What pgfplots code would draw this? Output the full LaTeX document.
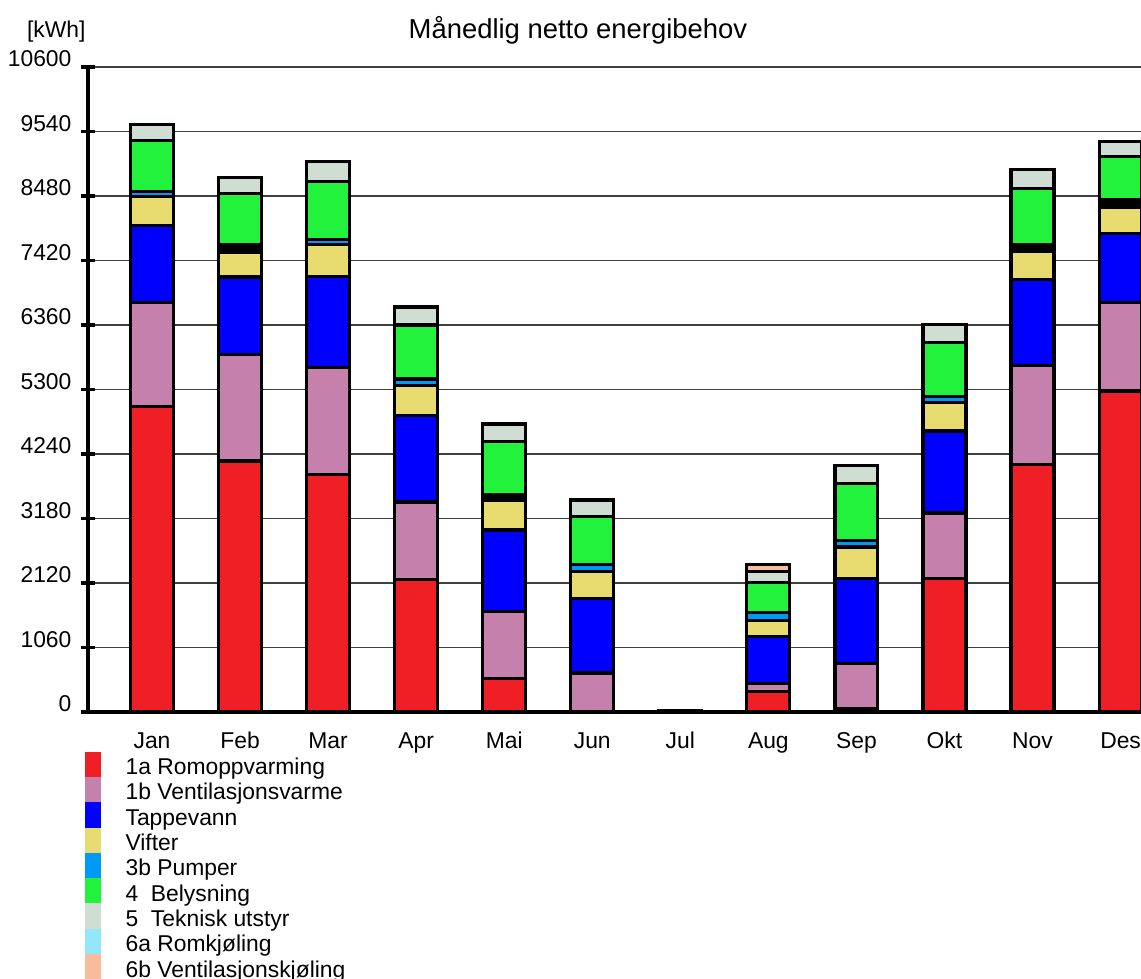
\documentclass[border=0pt]{standalone}
\usepackage{fontspec}
\setmainfont{Liberation Sans}
\usepackage{pgfplots}
\pgfplotsset{compat=1.18}
\usepackage{pgfplotstable}

\definecolor{cRed}{HTML}{F01F25}
\definecolor{cPink}{HTML}{C680AC}
\definecolor{cBlue}{HTML}{0000FF}
\definecolor{cYel}{HTML}{E8DC70}
\definecolor{cPump}{HTML}{0099F5}
\definecolor{cGreen}{HTML}{22F23C}
\definecolor{cGray}{HTML}{D0DDD2}
\definecolor{cCyan}{HTML}{92E8F8}
\definecolor{cPeach}{HTML}{F8BC9C}

\pgfplotstableread{
x red pink blue yellow pump pumpdark green gray romk ventk
0 5016 1709 1277 475 82 0 829 272 0 0
1 4125 1746 1277 412 0 126 841 254 0 0
2 3897 1771 1487 531 82 0 956 322 0 0
3 2184 1266 1419 494 109 0 888 296 0 0
4 551 1096 1343 493 0 93 866 290 0 0
5 0 641 1225 450 110 0 789 269 0 0
6 0 15 0 0 0 0 0 15 0 0
7 337 138 767 265 132 0 492 177 0 116
8 50 740 1408 513 111 0 933 303 0 0
9 2195 1076 1347 474 95 0 886 297 0 0
10 4061 1632 1411 468 0 114 917 317 0 0
11 5276 1449 1145 417 0 127 714 247 0 0
}\data

\begin{document}
\begin{tikzpicture}
\begin{axis}[
  scale only axis, width=368.55pt, height=225.75pt,
  xmin=-0.727, xmax=11.232, ymin=0, ymax=10600,
  ybar stacked, bar width=0.488,
  ytick={0,1060,2120,3180,4240,5300,6360,7420,8480,9540,10600},
  scaled y ticks=false,
  xtick={0,1,2,3,4,5,6,7,8,9,10,11},
  xticklabels={Jan,Feb,Mar,Apr,Mai,Jun,Jul,Aug,Sep,Okt,Nov,Des},
  axis x line*=bottom, axis y line*=left,
  axis line style={-, line width=1.2pt},
  ymajorgrids, grid style={black!75, line width=0.5pt},
  tick align=center, major tick length=5pt,
  ytick style={line width=1.2pt, black},
  xtick style={draw=none},
  ticklabel style={font=\fontsize{8}{9.6}\selectfont},
  /pgf/number format/assume math mode=true,
  yticklabel style={/pgf/number format/fixed, /pgf/number format/precision=0, /pgf/number format/1000 sep={}, anchor=base east, inner sep=0pt, xshift=-3.1pt},
  xticklabel style={anchor=base, yshift=-10.15pt},
  title={Månedlig netto energibehov},
  title style={at={(0.4653,1)}, anchor=base, yshift=3.85pt, inner sep=0pt, font=\fontsize{9.6}{11.5}\selectfont},
  ylabel={{[kWh]}},
  every axis y label/.style={at={(rel axis cs:0,1)}, anchor=base east, xshift=-0.7pt, yshift=10.15pt, inner sep=0pt, font=\fontsize{8}{9.6}\selectfont},
  every axis plot/.append style={draw=black, line width=1.1pt},
  legend image code/.code={\fill[#1, draw=none] (0pt,-4.43pt) rectangle (5.6pt,4.43pt);},
  legend cell align=left,
  legend style={at={(rel axis cs:0,0)}, anchor=north west, xshift=-1.4pt, yshift=-13.65pt,
    draw=none, fill=none, inner sep=0pt, row sep=0pt, column sep=8.75pt,
    font=\fontsize{8}{9.6}\selectfont,
    nodes={inner sep=0pt, text height=8.06pt, text depth=0.8pt}},
]
\addplot[fill=cRed] table[x=x, y=red]{\data};
\addplot[fill=cPink] table[x=x, y=pink]{\data};
\addplot[fill=cBlue] table[x=x, y=blue]{\data};
\addplot[fill=cYel] table[x=x, y=yellow]{\data};
\addplot[fill=cPump] table[x=x, y=pump]{\data};
\addplot[fill=black, forget plot] table[x=x, y=pumpdark]{\data};
\addplot[fill=cGreen] table[x=x, y=green]{\data};
\addplot[fill=cGray] table[x=x, y=gray]{\data};
\addplot[fill=cCyan] table[x=x, y=romk]{\data};
\addplot[fill=cPeach] table[x=x, y=ventk]{\data};
\legend{1a Romoppvarming, 1b Ventilasjonsvarme, Tappevann, Vifter, 3b Pumper, 4\ \ Belysning, 5\ \ Teknisk utstyr, 6a Romkjøling, 6b Ventilasjonskjøling}
\coordinate (O) at (rel axis cs:0,0);
\end{axis}
\pgfresetboundingbox
\path ([shift={(-30.8pt,-93.45pt)}]O) rectangle ([shift={(368.55pt,249.2pt)}]O);
\end{tikzpicture}
\end{document}
